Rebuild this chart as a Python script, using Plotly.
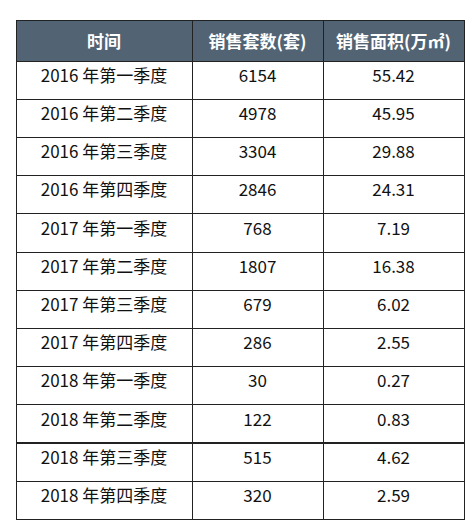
import plotly.graph_objects as go

headers = ["时间", "销售套数(套)", "销售面积(万㎡)"]
periods = ["2016 年第一季度", "2016 年第二季度", "2016 年第三季度", "2016 年第四季度",
           "2017 年第一季度", "2017 年第二季度", "2017 年第三季度", "2017 年第四季度",
           "2018 年第一季度", "2018 年第二季度", "2018 年第三季度", "2018 年第四季度"]
units = ["6154", "4978", "3304", "2846", "768", "1807", "679", "286", "30", "122", "515", "320"]
areas = ["55.42", "45.95", "29.88", "24.31", "7.19", "16.38", "6.02", "2.55", "0.27", "0.83", "4.62", "2.59"]

W, H = 474, 525
fig = go.Figure(go.Table(
    columnwidth=[176, 131, 141],
    domain=dict(x=[8/W, 456/W], y=[0, 1-12/H]),
    header=dict(values=[f"<b>{h}</b>" for h in headers], fill_color="#526473",
                line=dict(color="#222222", width=1), align="center", height=39,
                font=dict(color="white", size=17, family="Noto Sans CJK SC")),
    cells=dict(values=[periods, units, areas], fill_color="white",
               line=dict(color="#222222", width=1), align="center", height=38.2,
               font=dict(color="#111111", size=17, family="Noto Sans CJK SC")),
))
fig.update_layout(width=W, height=H, margin=dict(l=0, r=0, t=0, b=0),
                  paper_bgcolor="white")
fig.write_html("out.html")
